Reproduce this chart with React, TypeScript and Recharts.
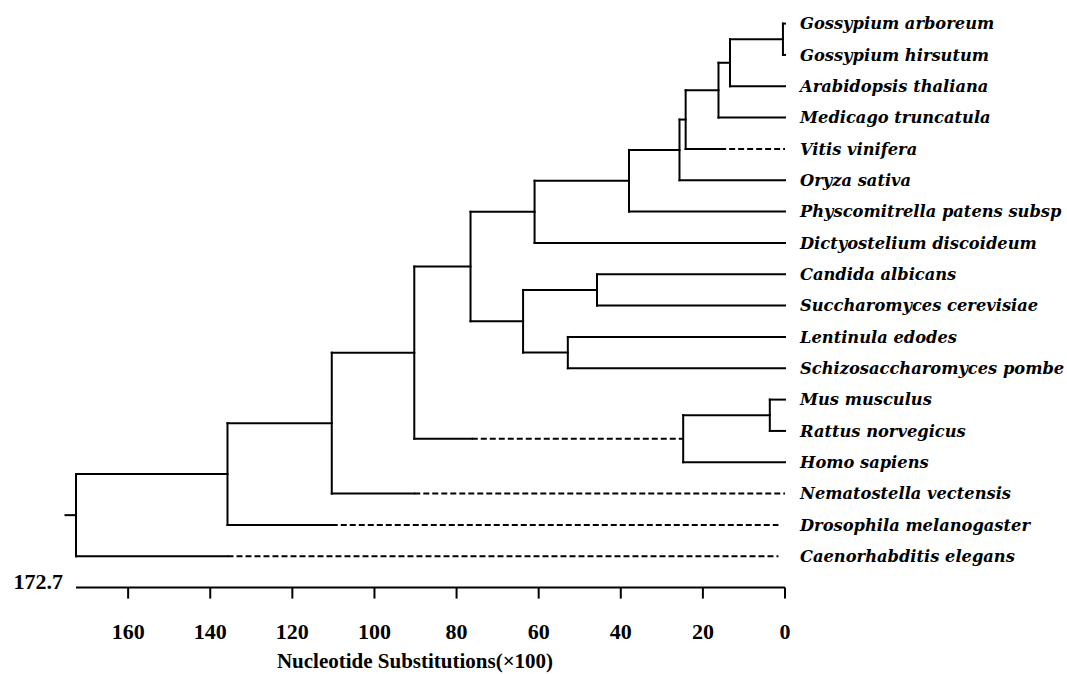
import React from 'react';
import { ComposedChart, Line, XAxis, YAxis, ReferenceLine, Label } from 'recharts';

// ---- data ----
const leafNames = [
  'Gossypium arboreum',
  'Gossypium hirsutum',
  'Arabidopsis thaliana',
  'Medicago truncatula',
  'Vitis vinifera',
  'Oryza sativa',
  'Physcomitrella patens subsp',
  'Dictyostelium discoideum',
  'Candida albicans',
  'Succharomyces cerevisiae',
  'Lentinula edodes',
  'Schizosaccharomyces pombe',
  'Mus musculus',
  'Rattus norvegicus',
  'Homo sapiens',
  'Nematostella vectensis',
  'Drosophila melanogaster',
  'Caenorhabditis elegans',
];
const leafHeights = [0, 0, 0, 0, 0, 0, 0, 0, 0, 0, 0, 0, 0, 0, 0, 0, 1.6, 1.6];

// internal nodes (children listed before parents); numbers = leaf index, strings = node id
const nodeIds = ['K', 'J', 'I', 'H', 'G', 'F', 'E', 'L', 'M', 'N', 'D', 'O', 'P', 'C', 'B', 'A', 'R'];
const nodeHeights = [0.5, 13.4, 16.2, 24.2, 25.7, 38.0, 61.0, 45.8, 52.9, 63.8, 76.6, 3.7, 24.8, 90.3, 110.4, 135.8, 172.7];
const nodeChildren: (string | number)[][] = [
  [0, 1],
  ['K', 2],
  ['J', 3],
  ['I', 4],
  ['H', 5],
  ['G', 6],
  ['F', 7],
  [8, 9],
  [10, 11],
  ['L', 'M'],
  ['E', 'N'],
  [12, 13],
  ['O', 14],
  ['D', 'P'],
  ['C', 15],
  ['B', 16],
  ['A', 17],
];

// branches that turn dashed part-way
const dashedChildren: (string | number)[] = [4, 'P', 15, 16, 17];
const dashStarts = [15.8, 76.3, 90.3, 110.4, 135.8];

const ROOT_HEIGHT = 172.7;
const ROOT_STEM_END = 175.5;
const axisTicks = [160, 140, 120, 100, 80, 60, 40, 20, 0];
const leafTicks = leafNames.map((_, i) => i);
const axisTitle = 'Nucleotide Substitutions(\u00d7100)';

// ---- build segments ----
type Pt = { x: number; y: number };
type Seg = { pts: Pt[]; dashed: boolean };

const key = (c: string | number) => (typeof c === 'number' ? 'leaf' + c : c);
const posY: Record<string, number> = {};
const posH: Record<string, number> = {};
leafNames.forEach((_, i) => {
  posY['leaf' + i] = i;
  posH['leaf' + i] = leafHeights[i];
});
const segments: Seg[] = [];
nodeIds.forEach((id, ni) => {
  const h = nodeHeights[ni];
  const kids = nodeChildren[ni].map(key);
  const ys = kids.map((k) => posY[k]);
  posY[id] = ys.reduce((a, b) => a + b, 0) / ys.length;
  posH[id] = h;
  segments.push({ pts: [{ x: h, y: Math.min(...ys) }, { x: h, y: Math.max(...ys) }], dashed: false });
  nodeChildren[ni].forEach((c) => {
    const k = key(c);
    const cy = posY[k];
    const ch = posH[k];
    const di = dashedChildren.indexOf(c);
    if (di >= 0) {
      const ds = dashStarts[di];
      segments.push({ pts: [{ x: h, y: cy }, { x: ds, y: cy }], dashed: false });
      segments.push({ pts: [{ x: ds, y: cy }, { x: ch, y: cy }], dashed: true });
    } else {
      segments.push({ pts: [{ x: h, y: cy }, { x: ch, y: cy }], dashed: false });
    }
  });
});
const rootY = posY['R'];

const LeafTick = (props: any) => {
  const { x, y, payload } = props;
  return (
    <text
      x={x}
      y={y}
      dy="0.36em"
      textAnchor="start"
      fontFamily="DejaVu Serif"
      fontStyle="italic"
      fontWeight="bold"
      fontSize={16.3}
      fill="#000"
    >
      {leafNames[payload.value]}
    </text>
  );
};

const AxisLabels = (props: any) => {
  const vb = props.viewBox || {};
  return (
    <g>
      <text
        x={vb.x - 13}
        y={vb.y + 1}
        textAnchor="end"
        fontFamily="Liberation Serif"
        fontWeight="bold"
        fontSize={22}
        fill="#000"
      >
        {ROOT_HEIGHT}
      </text>
      <text
        x={vb.x + 339}
        y={vb.y + 80}
        textAnchor="middle"
        fontFamily="Liberation Serif"
        fontWeight="bold"
        fontSize={21}
        fill="#000"
      >
        {axisTitle}
      </text>
    </g>
  );
};

export default function App() {
  return (
    <div style={{ position: 'absolute', left: 0, top: 0, background: '#fff' }}>
      <ComposedChart width={1067} height={674} margin={{ top: 23.6, right: 22, bottom: 26, left: 76 }}>
        <XAxis
          type="number"
          dataKey="x"
          domain={[0, ROOT_HEIGHT]}
          reversed
          ticks={axisTicks}
          interval={0}
          height={60.4}
          tickSize={11}
          tickMargin={25}
          axisLine={{ stroke: '#000', strokeWidth: 2 }}
          tickLine={{ stroke: '#000', strokeWidth: 2 }}
          tick={{ fill: '#000', fontSize: 22, fontFamily: 'Liberation Serif', fontWeight: 'bold' }}
        >
          <Label content={<AxisLabels />} />
        </XAxis>
        <YAxis
          type="number"
          domain={[0, leafNames.length]}
          reversed
          orientation="right"
          ticks={leafTicks}
          interval={0}
          width={260}
          axisLine={false}
          tickLine={false}
          tickSize={0}
          tickMargin={15}
          tick={<LeafTick />}
        />
        {segments.map((s, i) => (
          <Line
            key={i}
            data={s.pts}
            dataKey="y"
            type="linear"
            stroke="#000"
            strokeWidth={2}
            strokeDasharray={s.dashed ? '6 3' : undefined}
            strokeLinecap={s.dashed ? 'butt' : 'square'}
            dot={false}
            activeDot={false}
            legendType="none"
            isAnimationActive={false}
          />
        ))}
        <ReferenceLine
          segment={[{ x: ROOT_HEIGHT, y: rootY }, { x: ROOT_STEM_END, y: rootY }]}
          stroke="#000"
          strokeWidth={2}
          ifOverflow="visible"
        />
      </ComposedChart>
    </div>
  );
}
